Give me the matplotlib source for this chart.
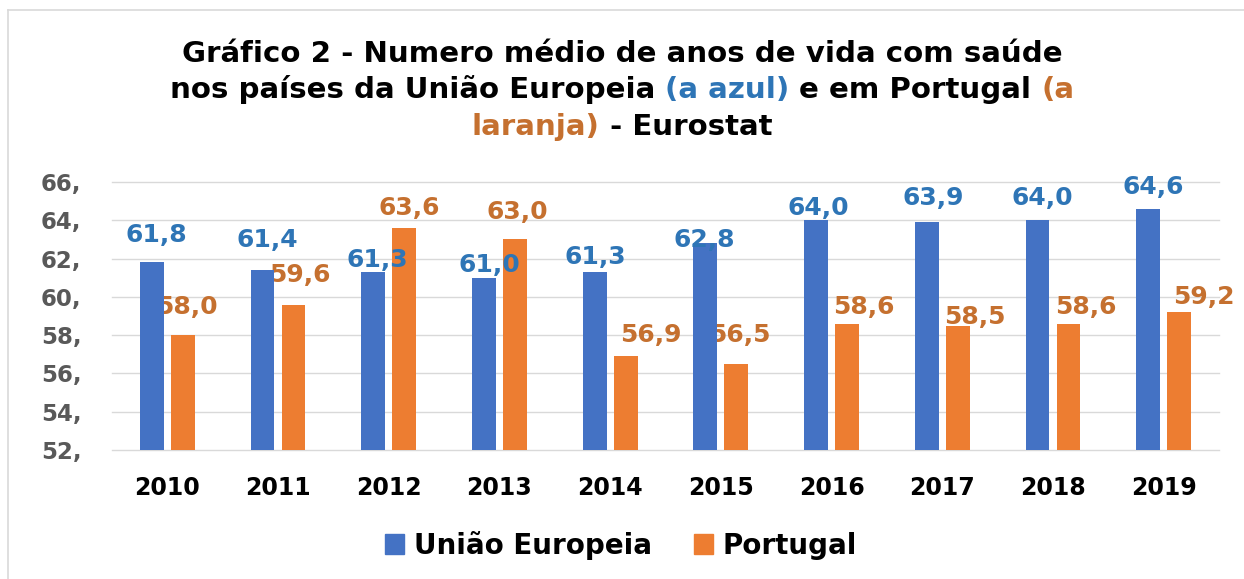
#!/usr/bin/env python3
"""Healthy life years in the EU vs Portugal (Eurostat), grouped bar chart."""

import matplotlib

matplotlib.use("Agg")
import matplotlib.pyplot as plt
import numpy as np
from matplotlib.lines import Line2D
from matplotlib.patches import Patch

YEARS = ["2010", "2011", "2012", "2013", "2014", "2015", "2016", "2017", "2018", "2019"]
EU_VALUES = [61.8, 61.4, 61.3, 61.0, 61.3, 62.8, 64.0, 63.9, 64.0, 64.6]
PT_VALUES = [58.0, 59.6, 63.6, 63.0, 56.9, 56.5, 58.6, 58.5, 58.6, 59.2]
Y_TICKS = [52, 54, 56, 58, 60, 62, 64, 66]
SERIES_NAMES = ["União Europeia", "Portugal"]

# hand-placed data labels in the original, nudges in pixels (dx right, dy above bar top)
EU_LABEL_DX = [4, 5, 4, 5, 1, -1, 2, 6, 5, 5]
EU_LABEL_DY = [27, 30, 12, 13, 15, 3, 12, 24, 22, 22]
PT_LABEL_DX = [4, 6, 5, 2, 25, 3, 17, 17, 17, 25]
PT_LABEL_DY = [28, 30, 20, 27, 21, 29, 17, 9, 17, 15]

W_PX, H_PX, DPI = 1244, 579, 100

BLUE = "#4472C4"
ORANGE = "#ED7D31"
BLUE_TEXT = "#2E75B6"
ORANGE_TEXT = "#C5702F"
GRID_COLOR = "#D9D9D9"
TICK_COLOR = "#595959"
FONT = "DejaVu Sans"
TITLE_WIDTH_PX = 880  # first title line spans about this width in the original

BAR_WIDTH = 0.215
BAR_OFFSET = 0.14


def text_width(fig, renderer, s, **kw):
    t = fig.text(0, 0, s, **kw)
    w = t.get_window_extent(renderer).width
    t.remove()
    return w


def rich_line(fig, renderer, y_px, pieces, fontsize):
    """Centre one title line built from (text, colour) pieces joined by spaces."""
    kw = dict(fontsize=fontsize, fontweight="bold", family=FONT)
    space = text_width(fig, renderer, "x x", **kw) - text_width(fig, renderer, "xx", **kw)
    widths = [text_width(fig, renderer, s, **kw) for s, _ in pieces]
    total = sum(widths) + space * (len(pieces) - 1)
    x = W_PX / 2 - total / 2
    for (s, color), w in zip(pieces, widths):
        fig.text(x / W_PX, 1 - y_px / H_PX, s, color=color, ha="left", va="baseline", **kw)
        x += w + space


def main():
    fig = plt.figure(figsize=(W_PX / DPI, H_PX / DPI), dpi=DPI)
    ax = fig.add_axes([112 / W_PX, 1 - 450 / H_PX, (1219 - 112) / W_PX, (450 - 182) / H_PX])

    x = np.arange(len(YEARS))
    ax.bar(x + BAR_OFFSET, PT_VALUES, BAR_WIDTH, color=ORANGE, zorder=2)
    ax.bar(x - BAR_OFFSET, EU_VALUES, BAR_WIDTH, color=BLUE, zorder=4)

    label_kw = dict(textcoords="offset pixels", ha="center", va="center",
                    fontsize=18, fontweight="bold", family=FONT)
    for xi, v, dx, dy in zip(x, PT_VALUES, PT_LABEL_DX, PT_LABEL_DY):
        ax.annotate(f"{v:.1f}".replace(".", ","), (xi + BAR_OFFSET, v), xytext=(dx, dy),
                    color=ORANGE_TEXT, zorder=3, **label_kw)
    for xi, v, dx, dy in zip(x, EU_VALUES, EU_LABEL_DX, EU_LABEL_DY):
        ax.annotate(f"{v:.1f}".replace(".", ","), (xi - BAR_OFFSET, v), xytext=(dx, dy),
                    color=BLUE_TEXT, zorder=5, **label_kw)

    ax.set_xlim(-0.5, len(YEARS) - 0.5)
    ax.set_ylim(Y_TICKS[0], Y_TICKS[-1])
    ax.set_yticks(Y_TICKS)
    ax.set_yticklabels([f"{t}," for t in Y_TICKS])
    ax.set_xticks(x)
    ax.set_xticklabels(YEARS)
    ax.grid(axis="y", color=GRID_COLOR, linewidth=1.0, zorder=0)
    ax.set_axisbelow(True)
    for gl in ax.get_ygridlines():
        gl.set_clip_on(False)
    for side in ("top", "right", "left", "bottom"):
        ax.spines[side].set_visible(False)
    ax.tick_params(axis="y", length=0, pad=22, labelsize=16.5, labelcolor=TICK_COLOR)
    ax.tick_params(axis="x", length=0, pad=19, labelsize=17, labelcolor="black")
    for lab in ax.get_yticklabels() + ax.get_xticklabels():
        lab.set_fontweight("bold")
        lab.set_family(FONT)

    handles = [Patch(color=BLUE, label=SERIES_NAMES[0]), Patch(color=ORANGE, label=SERIES_NAMES[1])]
    fig.legend(handles=handles, loc="center", bbox_to_anchor=(621 / W_PX, 1 - 545 / H_PX),
               ncol=2, frameon=False, handlelength=0.7, handleheight=0.7, handletextpad=0.35,
               columnspacing=1.5, prop=dict(family=FONT, weight="bold", size=20))

    # thin chart-area border (top and left only are visible in the crop)
    fig.add_artist(Line2D([8 / W_PX, 8 / W_PX], [0, 1 - 10 / H_PX], color=GRID_COLOR, linewidth=1.2))
    fig.add_artist(Line2D([8 / W_PX, 1], [1 - 10 / H_PX, 1 - 10 / H_PX], color=GRID_COLOR, linewidth=1.2))

    renderer = fig.canvas.get_renderer()
    line1 = "Gráfico 2 - Numero médio de anos de vida com saúde"
    base = 20
    w = text_width(fig, renderer, line1, fontsize=base, fontweight="bold", family=FONT)
    title_size = base * TITLE_WIDTH_PX / w
    rich_line(fig, renderer, 62, [(line1, "black")], title_size)
    rich_line(fig, renderer, 98, [("nos países da União Europeia", "black"), ("(a azul)", BLUE_TEXT),
                                  ("e em Portugal", "black"), ("(a", ORANGE_TEXT)], title_size)
    rich_line(fig, renderer, 135, [("laranja)", ORANGE_TEXT), ("- Eurostat", "black")], title_size)

    fig.savefig("out.png", dpi=DPI)
    plt.close(fig)


if __name__ == "__main__":
    main()
